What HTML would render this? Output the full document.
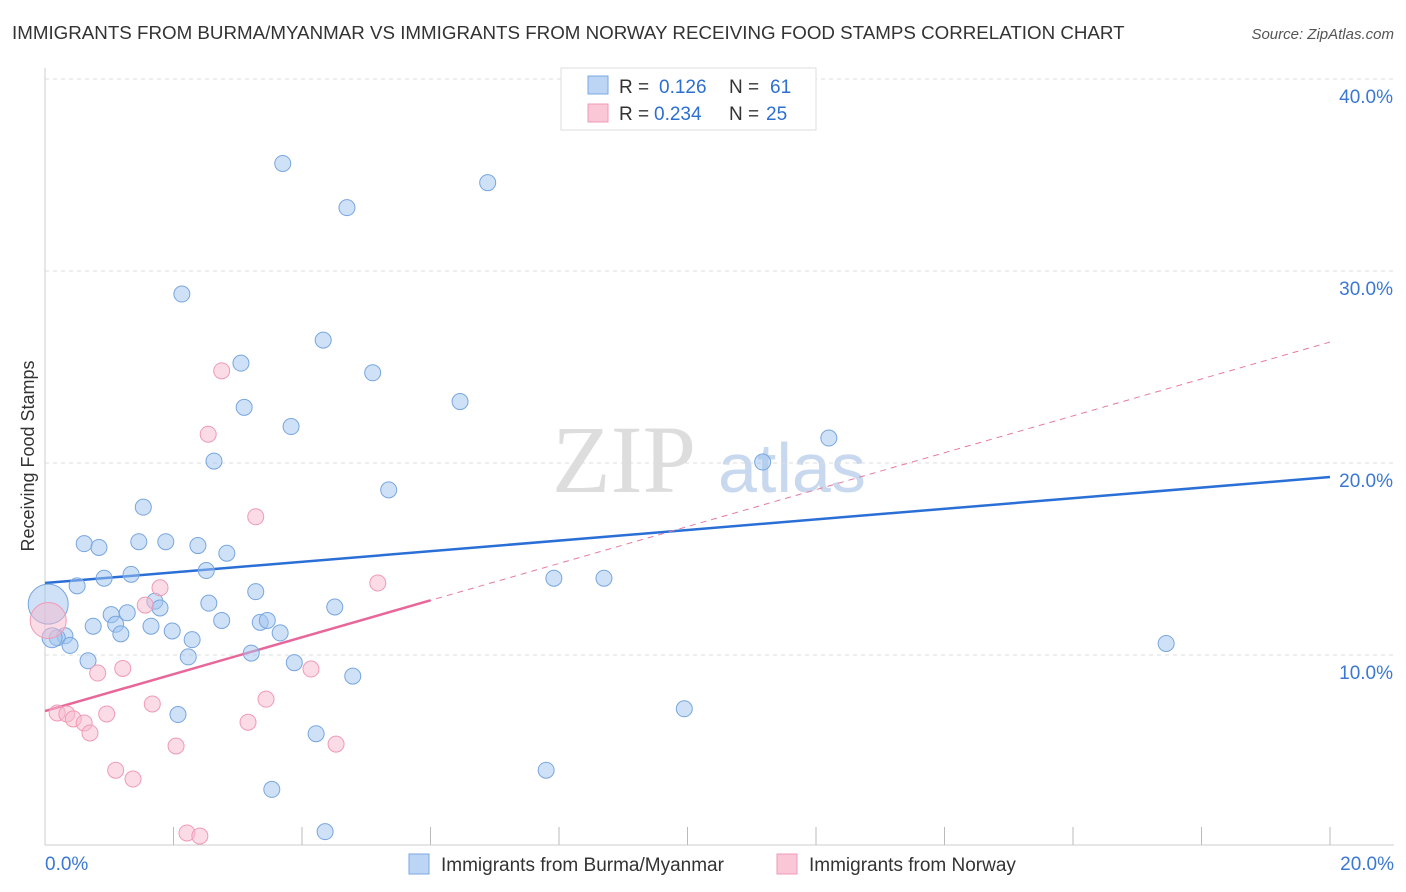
<!DOCTYPE html>
<html><head><meta charset="utf-8"><style>
body{margin:0;background:#fff;font-family:"Liberation Sans",sans-serif;}
svg{display:block}
</style></head><body>
<svg id="chart" width="1406" height="892" xmlns="http://www.w3.org/2000/svg">
<text x="12" y="39" font-size="18.75" fill="#333">IMMIGRANTS FROM BURMA/MYANMAR VS IMMIGRANTS FROM NORWAY RECEIVING FOOD STAMPS CORRELATION CHART</text>
<text x="1394" y="39" font-size="15" fill="#555" font-style="italic" text-anchor="end">Source: ZipAtlas.com</text>
<text x="34" y="456" font-size="18" fill="#333" text-anchor="middle" transform="rotate(-90 34 456)">Receiving Food Stamps</text>
<g><text x="552" y="492" font-size="96" font-family="Liberation Serif,serif" fill="#ddd">ZIP</text><text x="718" y="492" font-size="70" fill="#c8d8ef">atlas</text></g>
<g id="grid"></g><g id="axes"></g><g id="lines"></g><g id="pts"></g>
<g>
<rect x="561" y="68" width="255" height="62" fill="#fff" stroke="#ddd"/>
<rect x="588" y="76" width="20" height="18" fill="#bcd5f5" stroke="#7aa8e0"/>
<text x="619" y="93" font-size="19" fill="#333">R =</text>
<text x="659" y="93" font-size="19" fill="#2d6fd0">0.126</text>
<text x="729" y="93" font-size="19" fill="#333">N =</text>
<text x="770" y="93" font-size="19" fill="#2d6fd0">61</text>
<rect x="588" y="104" width="20" height="18" fill="#f9c7d6" stroke="#f09ab5"/>
<text x="619" y="120" font-size="19" fill="#333">R =</text>
<text x="654" y="120" font-size="19" fill="#2d6fd0">0.234</text>
<text x="729" y="120" font-size="19" fill="#333">N =</text>
<text x="766" y="120" font-size="19" fill="#2d6fd0">25</text>
</g>
<g>
<rect x="409" y="854" width="20" height="20" fill="#bcd5f5" stroke="#7aa8e0"/>
<text x="441" y="871" font-size="19" fill="#333">Immigrants from Burma/Myanmar</text>
<rect x="777" y="854" width="20" height="20" fill="#f9c7d6" stroke="#f09ab5"/>
<text x="809" y="871" font-size="19" fill="#333">Immigrants from Norway</text>
</g>
</svg>
<script>
const yTicks=[10,20,30,40];
const yTickLabels=["10.0%","20.0%","30.0%","40.0%"];
const xTickLabels=["0.0%","20.0%"];
const blueX=[3.70,6.89,4.70,2.13,4.33,3.05,5.10,3.10,6.46,3.83,12.20,2.63,11.17,5.35,1.53,0.61,0.84,1.46,1.88,2.38,2.83,2.51,0.92,1.34,0.50,3.28,7.92,8.70,1.71,1.79,2.55,1.28,1.03,4.51,1.10,0.75,1.65,2.75,3.35,3.46,1.98,1.18,3.66,2.29,0.31,0.19,0.39,17.45,3.21,2.23,0.67,3.88,4.79,9.95,2.07,4.22,7.80,3.53,4.36,0.05,0.11];
const blueY=[35.6,34.6,33.3,28.8,26.4,25.2,24.7,22.9,23.2,21.9,21.3,20.1,20.05,18.6,17.7,15.8,15.6,15.9,15.9,15.7,15.3,14.4,14.0,14.2,13.6,13.3,14.0,14.0,12.8,12.45,12.7,12.2,12.1,12.5,11.6,11.5,11.5,11.8,11.7,11.8,11.25,11.1,11.15,10.8,11.0,10.9,10.5,10.6,10.1,9.9,9.7,9.6,8.9,7.2,6.9,5.9,4.0,3.0,0.8,12.65,10.9];
const blueR=[8,8,8,8,8,8,8,8,8,8,8,8,8,8,8,8,8,8,8,8,8,8,8,8,8,8,8,8,8,8,8,8,8,8,8,8,8,8,8,8,8,8,8,8,8,8,8,8,8,8,8,8,8,8,8,8,8,8,8,20,10];
const pinkX=[2.75,2.54,3.28,1.79,5.18,1.56,1.21,0.82,4.14,3.44,1.67,0.19,0.34,0.96,0.44,0.61,0.70,3.16,4.53,2.04,1.10,1.37,2.21,2.41,0.05];
const pinkY=[24.8,21.5,17.2,13.5,13.75,12.6,9.3,9.06,9.27,7.7,7.45,6.98,6.93,6.93,6.67,6.46,5.94,6.5,5.36,5.26,4.0,3.54,0.73,0.57,11.8];
const pinkR=[8,8,8,8,8,8,8,8,8,8,8,8,8,8,8,8,8,8,8,8,8,8,8,8,18];
const blueTrend=[13.75,19.27];
const pinkTrend=[7.08,26.3];
const pinkSolidEnd=6.0;
const NS="http://www.w3.org/2000/svg";
const X=v=>45+v/20*1285, Y=v=>847-v*19.2;
function mk(tag,attrs,parent){const e=document.createElementNS(NS,tag);for(const k in attrs)e.setAttribute(k,attrs[k]);parent.appendChild(e);return e;}
const grid=document.getElementById('grid'),axes=document.getElementById('axes');
yTicks.forEach((t,i)=>{
 const l=mk('line',{x1:45,x2:1394,y1:Y(t),y2:Y(t),stroke:'#ddd','stroke-dasharray':'4 4'},grid);
 
 
 const tx=mk('text',{x:1393,y:Y(t)+24,'font-size':19,fill:'#3a78d4','text-anchor':'end'},axes);
 tx.textContent=yTickLabels[i];
 
 
});
const al=mk('line',{x1:45,x2:45,y1:68,y2:845,stroke:'#ccc'},axes);


const bl=mk('line',{x1:45,x2:1394,y1:845,y2:845,stroke:'#ccc'},axes);


for(let i=1;i<=10;i++){const t=mk('line',{x1:X(i*2),x2:X(i*2),y1:827,y2:845,stroke:'#bbb'},axes);
 
 }
[[0,'start',45],[20,'end',1394]].forEach((a,i)=>{const t=mk('text',{x:a[2],y:870,'font-size':19,fill:'#3a78d4','text-anchor':a[1]},axes);t.textContent=xTickLabels[i];
 
 });
const lines=document.getElementById('lines');
const b=mk('line',{x1:X(0),y1:Y(blueTrend[0]),x2:X(20),y2:Y(blueTrend[1]),stroke:'#2a6fd6','stroke-width':2.5},lines);


const py=x=>pinkTrend[0]+(pinkTrend[1]-pinkTrend[0])*x/20;
const pd=mk('line',{x1:X(0),y1:Y(pinkTrend[0]),x2:X(20),y2:Y(pinkTrend[1]),stroke:'#e87aa0','stroke-width':1,'stroke-dasharray':'6 5'},lines);


const ps=mk('line',{x1:X(0),y1:Y(pinkTrend[0]),x2:X(pinkSolidEnd),y2:Y(py(pinkSolidEnd)),stroke:'#e8679a','stroke-width':2.5},lines);


const pts=document.getElementById('pts');
blueX.forEach((x,i)=>{const c=mk('circle',{cx:X(x),cy:Y(blueY[i]),r:blueR[i],fill:'rgba(160,196,240,0.5)',stroke:'#78a6df','stroke-width':1},pts);
 
 });
pinkX.forEach((x,i)=>{const c=mk('circle',{cx:X(x),cy:Y(pinkY[i]),r:pinkR[i],fill:'rgba(248,185,205,0.5)',stroke:'#f09ab5','stroke-width':1},pts);
 
 });
</script>
</body></html>
